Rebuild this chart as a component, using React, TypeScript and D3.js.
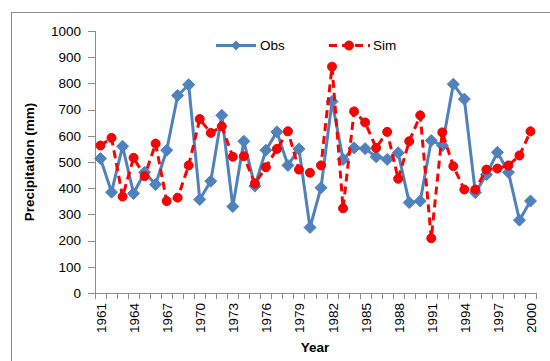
import React from "react";
import * as d3 from "d3";

const years: number[] = d3.range(1961, 2001);
const obs: number[] = [513, 385, 560, 380, 461, 414, 545, 754, 795, 357, 427, 678, 330, 579, 408, 545, 615, 487, 550, 250, 402, 731, 510, 554, 551, 520, 510, 535, 345, 351, 582, 563, 797, 740, 383, 452, 537, 461, 278, 351];
const sim: number[] = [563, 592, 368, 516, 446, 570, 351, 364, 487, 664, 611, 636, 520, 522, 418, 480, 550, 617, 471, 459, 487, 864, 323, 693, 651, 554, 615, 436, 579, 678, 209, 613, 484, 395, 395, 471, 475, 487, 525, 617];
const yTicks: number[] = [0, 100, 200, 300, 400, 500, 600, 700, 800, 900, 1000];

const W = 550, H = 361;
const left = 95, right = 536, top = 31, bottom = 293;

export default function App() {
  const x = d3.scaleBand<number>().domain(years).range([left, right]);
  const y = d3.scaleLinear().domain([0, 1000]).range([bottom, top]);
  const cx = (yr: number) => (x(yr) as number) + x.bandwidth() / 2;
  const line = d3.line<number>().x((_, i) => cx(years[i])).y((v) => y(v));
  const font = "'Liberation Sans', Arial, sans-serif";
  const blue = "#4F81BD";
  const red = "#FF0000";
  const diamond = (px: number, py: number, r: number) => `M${px},${py - r}L${px + r},${py}L${px},${py + r}L${px - r},${py}Z`;
  const boundaries = d3.range(0, years.length + 1).map((i) => left + i * x.step());
  return (
    <svg width={W} height={H} style={{ position: "absolute", left: 0, top: 0 }} fontFamily={font}>
      <rect x={0} y={0} width={W} height={H} fill="white" />
      <rect x={11.5} y={12.5} width={600} height={400} fill="white" stroke="#8c8c8c" strokeWidth={1} />
      {/* y axis */}
      <line x1={left + 0.5} x2={left + 0.5} y1={top} y2={bottom} stroke="#8c8c8c" />
      {yTicks.map((t) => (
        <g key={t}>
          <line x1={left - 7} x2={left} y1={Math.round(y(t)) + 0.5} y2={Math.round(y(t)) + 0.5} stroke="#8c8c8c" />
          <text x={81} y={y(t)} dy="0.35em" textAnchor="end" fontSize={13.5} fill="#000">{t}</text>
        </g>
      ))}
      {/* x axis */}
      <line x1={left} x2={right} y1={bottom + 0.5} y2={bottom + 0.5} stroke="#8c8c8c" />
      {boundaries.map((b, i) => (
        <line key={i} x1={Math.round(b) + 0.5} x2={Math.round(b) + 0.5} y1={bottom} y2={bottom + 6} stroke="#8c8c8c" />
      ))}
      {years.filter((_, i) => i % 3 === 0).map((yr) => (
        <text key={yr} transform={`translate(${cx(yr) + 5.5},${bottom + 10}) rotate(-90)`} textAnchor="end" fontSize={13.5} fill="#000">{yr}</text>
      ))}
      <text x={315} y={352} textAnchor="middle" fontSize={13.5} fontWeight="bold">Year</text>
      <text transform={`translate(34,${(top + bottom) / 2}) rotate(-90)`} textAnchor="middle" fontSize={13.5} fontWeight="bold">Precipitation (mm)</text>
      {/* series */}
      <path d={line(obs) || ""} fill="none" stroke={blue} strokeWidth={3} strokeLinejoin="round" />
      {obs.map((v, i) => (
        <path key={i} d={diamond(cx(years[i]), y(v), 6)} fill={blue} stroke={blue} strokeWidth={1} />
      ))}
      <path d={line(sim) || ""} fill="none" stroke={red} strokeWidth={3} strokeDasharray="8,5" />
      {sim.map((v, i) => (
        <circle key={i} cx={cx(years[i])} cy={y(v)} r={4.5} fill={red} stroke="#d01010" strokeWidth={1} />
      ))}
      {/* legend */}
      <line x1={216} x2={256} y1={45.5} y2={45.5} stroke={blue} strokeWidth={3} />
      <path d={diamond(236, 45.5, 5)} fill={blue} />
      <text x={260} y={45.5} dy="0.35em" fontSize={13.5} fill="#000">Obs</text>
      <line x1={329} x2={370} y1={45.5} y2={45.5} stroke={red} strokeWidth={3} strokeDasharray="8,5" />
      <circle cx={349} cy={45.5} r={4.5} fill={red} stroke="#d01010" />
      <text x={373} y={45.5} dy="0.35em" fontSize={13.5} fill="#000">Sim</text>
    </svg>
  );
}
